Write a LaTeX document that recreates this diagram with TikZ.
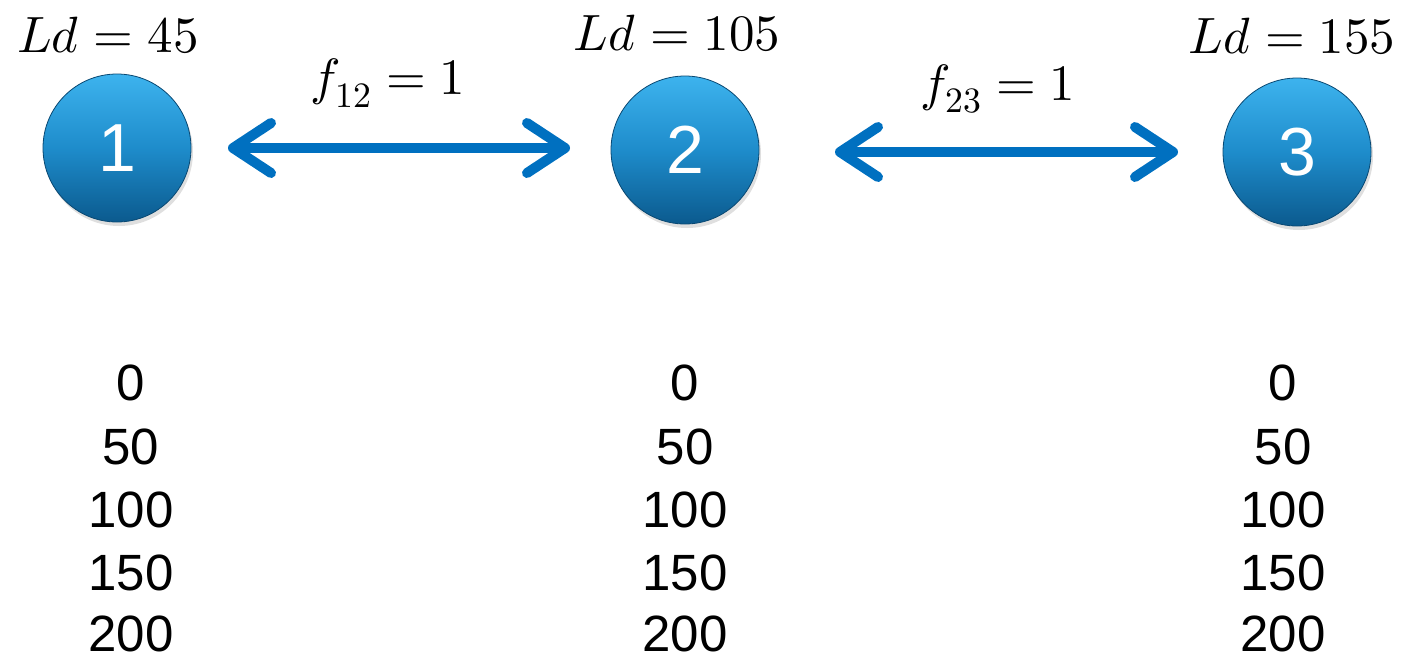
\documentclass[tikz,border=0pt]{standalone}
\usepackage{fontspec}
\usepackage{unicode-math}
\setmathfont{Latin Modern Math}
\setsansfont{Liberation Sans}
\usetikzlibrary{arrows.meta,shadows}
\definecolor{arrowblue}{HTML}{0070C0}
\definecolor{balltop}{HTML}{3DB3EE}
\definecolor{ballmid}{HTML}{1E8CCB}
\definecolor{ballbot}{HTML}{0B5A8E}
\begin{document}
\begin{tikzpicture}[x=1pt,y=-1pt,
  ball/.style={circle,minimum size=148pt,inner sep=0pt,
    top color=balltop,bottom color=ballbot,middle color=ballmid,
    draw=ballbot!80!black,line width=0.8pt,
    font=\sffamily\fontsize{68}{72}\selectfont,text=white,
    drop shadow={shadow xshift=2pt,shadow yshift=-4pt,opacity=0.25}},
  lbl/.style={inner sep=0pt,font=\fontsize{51}{56}\selectfont},
  num/.style={inner sep=0pt,font=\sffamily\fontsize{51}{56}\selectfont},
  link/.style={arrowblue,line width=10pt,
    {Straight Barb[length=38pt,width=50pt,line cap=round,line join=round]}-{Straight Barb[length=38pt,width=50pt,line cap=round,line join=round]}}
]
\useasboundingbox (0,0) rectangle (1408,662);
\node[ball] (s1) at (117,148) {1};
\node[ball] (s2) at (685,150) {2};
\node[ball] (s3) at (1297,152) {3};
\draw[link,shorten <=111pt,shorten >=115pt] (s1.center) -- (s1.center -| s2.center);
\draw[link,shorten <=150pt,shorten >=119pt] (s3.center -| s2.center) -- (s3.center);
\node[lbl] (l1) at (108,35) {$Ld=45$};
\node[lbl] (l2) at (677,33) {$Ld=105$};
\node[lbl] (l3) at (1292,36) {$Ld=155$};
\node[lbl] (f1) at (388,83) {$f_{12}=1$};
\node[lbl] (f2) at (998,89) {$f_{23}=1$};
\foreach \c/\x in {a/131,b/685,c/1283}{
  \node[num] (\c0) at (\x,383) {0};
  \node[num] (\c1) at (\x,447) {50};
  \node[num] (\c2) at (\x,510) {100};
  \node[num] (\c3) at (\x,573) {150};
  \node[num] (\c4) at (\x,634) {200};
}
\end{tikzpicture}
\end{document}
